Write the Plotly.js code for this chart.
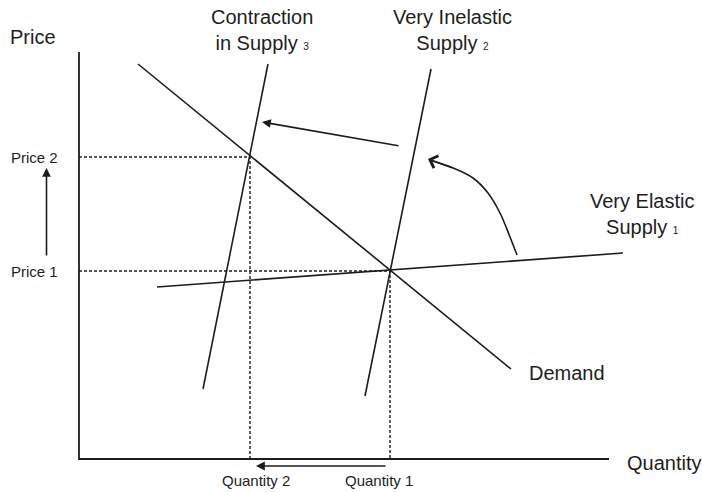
<!DOCTYPE html>
<html>
<head>
<meta charset="utf-8">
<script src="https://cdn.plot.ly/plotly-3.0.1.min.js"></script>
<style>
  html, body { margin: 0; padding: 0; background: #ffffff; }
  #chart { width: 702px; height: 492px; }
</style>
</head>
<body>
<div id="chart"></div>
<script>
// ---- Data (quantity / price units) ----
const demandQ = [1.18, 8.64];
const demandP = [7.90, 1.80];

const elasticSupplyQ = [1.56, 10.88];
const elasticSupplyP = [3.44, 4.12];

const inelasticSupplyQ = [5.72, 7.04];
const inelasticSupplyP = [1.26, 7.80];

const contractionSupplyQ = [2.48, 3.78];
const contractionSupplyP = [1.40, 7.90];

const quantityLevels = [6.22, 3.42];   // Quantity 1, Quantity 2
const priceLevels = [3.76, 6.04];      // Price 1, Price 2
const priceLabels = ["Price 1", "Price 2"];
const quantityLabels = ["Quantity 1", "Quantity 2"];

const axisQ = [0, 0, 10.6];
const axisP = [8.14, 0, 0];

// curved arrow from elastic to inelastic supply
const curveQ = [8.76, 8.62, 8.42, 8.18, 7.88, 7.48, 7.02];
const curveP = [4.08, 4.44, 4.92, 5.32, 5.62, 5.82, 5.98];

// straight arrows: [tailQ, tailP, headQ, headP]
const shiftArrow = [6.42, 6.26, 3.66, 6.74];
const priceArrow = [-0.65, 4.04, -0.65, 5.82];
const quantityArrow = [6.16, -0.14, 3.54, -0.14];
const curveHead = [7.48, 5.82, 6.98, 6.00];

const lineColor = "#1c1c1c";
const font = "Liberation Sans, Arial, sans-serif";

function seg(x, y, extra) {
  return Object.assign({
    x: x, y: y, type: "scatter", mode: "lines",
    line: { color: lineColor, width: 1.6 },
    hoverinfo: "skip", showlegend: false
  }, extra || {});
}

const traces = [
  seg(axisQ, axisP, { line: { color: lineColor, width: 1.8 } }),
  seg([0, quantityLevels[1], quantityLevels[1]], [priceLevels[1], priceLevels[1], 0],
      { line: { color: lineColor, width: 1.4, dash: "3px,2px" } }),
  seg([0, quantityLevels[0], quantityLevels[0]], [priceLevels[0], priceLevels[0], 0],
      { line: { color: lineColor, width: 1.4, dash: "3px,2px" } }),
  seg(demandQ, demandP),
  seg(elasticSupplyQ, elasticSupplyP),
  seg(inelasticSupplyQ, inelasticSupplyP),
  seg(contractionSupplyQ, contractionSupplyP),
  seg(curveQ, curveP, { line: { color: lineColor, width: 1.6, shape: "spline" } })
];

function arrow(a, head, size) {
  return {
    x: a[2], y: a[3], ax: a[0], ay: a[1],
    xref: "x", yref: "y", axref: "x", ayref: "y",
    text: "", showarrow: true, arrowhead: head, arrowsize: size,
    arrowwidth: 1.6, arrowcolor: lineColor, standoff: 0, startstandoff: 0
  };
}

function label(text, x, y, size, xanchor) {
  return {
    text: text, x: x, y: y, xref: "x", yref: "y",
    showarrow: false, xanchor: xanchor || "center", yanchor: "middle",
    font: { family: font, size: size, color: "#1e1e1e" }
  };
}

const sub = d => " <span style='font-size:10px'>" + d + "</span>";

const annotations = [
  arrow(shiftArrow, 2, 1.1),
  arrow(priceArrow, 2, 1.1),
  arrow(quantityArrow, 2, 1.1),
  arrow(curveHead, 4, 1.6),
  label("Price", -0.92, 8.44, 20),
  label("Contraction<br>in Supply" + sub("3"), 3.66, 8.58, 20),
  label("Very Inelastic<br>Supply" + sub("2"), 7.46, 8.58, 20),
  label("Very Elastic<br>Supply" + sub("1"), 11.26, 4.91, 20),
  label("Demand", 8.96, 1.72, 20, "left"),
  label("Quantity", 10.92, -0.08, 20, "left"),
  label(priceLabels[1], -0.9, priceLevels[1], 15),
  label(priceLabels[0], -0.9, priceLevels[0], 15),
  label(quantityLabels[1], 3.53, -0.42, 15),
  label(quantityLabels[0], 6.0, -0.42, 15)
];

const layout = {
  width: 702, height: 492,
  margin: { l: 0, r: 0, t: 0, b: 0, pad: 0 },
  paper_bgcolor: "#ffffff", plot_bgcolor: "#ffffff",
  showlegend: false, hovermode: false,
  xaxis: { range: [-1.58, 12.46], visible: false, fixedrange: true },
  yaxis: { range: [-0.66, 9.18], visible: false, fixedrange: true },
  annotations: annotations
};

Plotly.newPlot("chart", traces, layout, { staticPlot: true, displayModeBar: false });
</script>
</body>
</html>
